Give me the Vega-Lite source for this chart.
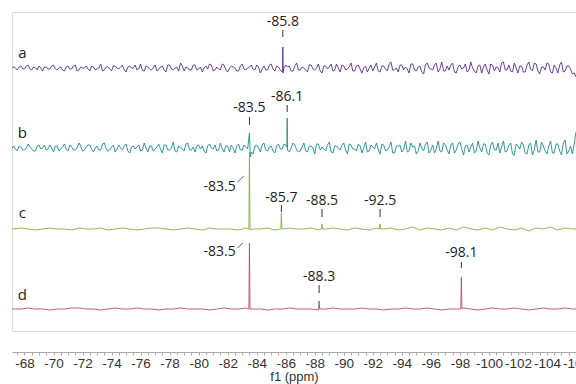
{
"$schema":"https://vega.github.io/schema/vega-lite/v6.json",
"width":564,"height":319,
"autosize":{"type":"none"},
"padding":{"left":12,"top":12,"right":0,"bottom":53},
"background":"white",
"config":{"view":{"stroke":"#dcdcdc","strokeWidth":1}},
"datasets":{
"a":[{"x":-67.14,"v":263},
{"x":-67.25,"v":264},{"x":-67.5,"v":261},{"x":-67.75,"v":265},{"x":-68,"v":262},{"x":-68.25,"v":266},{"x":-68.5,"v":261},{"x":-68.75,"v":263},{"x":-69,"v":265},{"x":-69.25,"v":260},{"x":-69.5,"v":264},
{"x":-69.75,"v":262},{"x":-70,"v":266},{"x":-70.25,"v":261},{"x":-70.5,"v":264},{"x":-70.75,"v":260},{"x":-71,"v":265},{"x":-71.25,"v":262},{"x":-71.5,"v":266},{"x":-71.75,"v":261},{"x":-72,"v":263},
{"x":-72.25,"v":265},{"x":-72.5,"v":260},{"x":-72.75,"v":264},{"x":-73,"v":262},{"x":-73.25,"v":267},{"x":-73.5,"v":261},{"x":-73.75,"v":264},{"x":-74,"v":260},{"x":-74.25,"v":265},{"x":-74.5,"v":262},
{"x":-74.75,"v":266},{"x":-75,"v":259},{"x":-75.25,"v":265},{"x":-75.5,"v":263},{"x":-75.75,"v":261},{"x":-76,"v":267},{"x":-76.25,"v":260},{"x":-76.5,"v":264},{"x":-76.75,"v":261},{"x":-77,"v":266},
{"x":-77.25,"v":262},{"x":-77.5,"v":265},{"x":-77.75,"v":259},{"x":-78,"v":266},{"x":-78.25,"v":261},{"x":-78.5,"v":264},{"x":-78.75,"v":268},{"x":-79,"v":260},{"x":-79.25,"v":263},{"x":-79.5,"v":261},
{"x":-79.75,"v":266},{"x":-80,"v":262},{"x":-80.25,"v":259},{"x":-80.5,"v":265},{"x":-80.75,"v":267},{"x":-81,"v":260},{"x":-81.25,"v":264},{"x":-81.5,"v":261},{"x":-81.75,"v":266},{"x":-82,"v":259},
{"x":-82.25,"v":265},{"x":-82.5,"v":263},{"x":-82.75,"v":260},{"x":-83,"v":267},{"x":-83.25,"v":261},{"x":-83.5,"v":264},{"x":-83.75,"v":262},{"x":-84,"v":266},{"x":-84.25,"v":258},{"x":-84.5,"v":265},
{"x":-84.75,"v":261},{"x":-85,"v":267},{"x":-85.25,"v":260},{"x":-85.5,"v":264},{"x":-85.75,"v":259},{"x":-85.79,"v":262},{"x":-85.8,"v":284},{"x":-85.82,"v":258},{"x":-86,"v":266},{"x":-86.25,"v":265},{"x":-86.5,"v":260},{"x":-86.75,"v":268},{"x":-87,"v":261},
{"x":-87.25,"v":263},{"x":-87.5,"v":259},{"x":-87.75,"v":266},{"x":-88,"v":261},{"x":-88.25,"v":267},{"x":-88.5,"v":258},{"x":-88.75,"v":265},{"x":-89,"v":264},{"x":-89.25,"v":260},{"x":-89.5,"v":267},
{"x":-89.75,"v":259},{"x":-90,"v":265},{"x":-90.25,"v":262},{"x":-90.5,"v":268},{"x":-90.75,"v":260},{"x":-91,"v":266},{"x":-91.25,"v":258},{"x":-91.5,"v":265},{"x":-91.75,"v":263},{"x":-92,"v":260},
{"x":-92.25,"v":268},{"x":-92.5,"v":259},{"x":-92.75,"v":265},{"x":-93,"v":260},{"x":-93.25,"v":269},{"x":-93.5,"v":261},{"x":-93.75,"v":259},{"x":-94,"v":266},{"x":-94.25,"v":264},{"x":-94.5,"v":258},
{"x":-94.75,"v":267},{"x":-95,"v":260},{"x":-95.25,"v":265},{"x":-95.5,"v":257},{"x":-95.75,"v":268},{"x":-96,"v":262},{"x":-96.25,"v":266},{"x":-96.5,"v":259},{"x":-96.75,"v":269},{"x":-97,"v":260},
{"x":-97.25,"v":261},{"x":-97.5,"v":268},{"x":-97.75,"v":258},{"x":-98,"v":266},{"x":-98.25,"v":263},{"x":-98.5,"v":259},{"x":-98.75,"v":269},{"x":-99,"v":260},{"x":-99.25,"v":265},{"x":-99.5,"v":258},
{"x":-99.75,"v":267},{"x":-100,"v":257},{"x":-100.25,"v":266},{"x":-100.5,"v":264},{"x":-100.75,"v":259},{"x":-101,"v":269},{"x":-101.25,"v":261},{"x":-101.5,"v":260},{"x":-101.75,"v":268},{"x":-102,"v":258},
{"x":-102.25,"v":265},{"x":-102.5,"v":259},{"x":-102.75,"v":269},{"x":-103,"v":260},{"x":-103.25,"v":267},{"x":-103.5,"v":257},{"x":-103.75,"v":264},{"x":-104,"v":268},{"x":-104.25,"v":259},{"x":-104.5,"v":266},
{"x":-104.75,"v":258},{"x":-105,"v":269},{"x":-105.25,"v":260},{"x":-105.5,"v":265},{"x":-105.75,"v":257},{"x":-106,"v":254},
{"x":-67.375,"v":263},{"x":-67.625,"v":264},{"x":-67.875,"v":262},{"x":-68.125,"v":265},{"x":-68.375,"v":262},{"x":-68.625,"v":264},{"x":-68.875,"v":261},{"x":-69.125,"v":263},{"x":-69.375,"v":264},{"x":-69.625,"v":262},
{"x":-69.875,"v":265},{"x":-70.125,"v":262},{"x":-70.375,"v":263},{"x":-70.625,"v":261},{"x":-70.875,"v":264},{"x":-71.125,"v":262},{"x":-71.375,"v":265},{"x":-71.625,"v":260},{"x":-71.875,"v":264},{"x":-72.125,"v":263},
{"x":-72.375,"v":262},{"x":-72.625,"v":265},{"x":-72.875,"v":261},{"x":-73.125,"v":263},{"x":-73.375,"v":260},{"x":-73.625,"v":264},{"x":-73.875,"v":262},{"x":-74.125,"v":265},{"x":-74.375,"v":263},{"x":-74.625,"v":264},
{"x":-74.875,"v":261},{"x":-75.125,"v":264},{"x":-75.375,"v":263},{"x":-75.625,"v":266},{"x":-75.875,"v":262},{"x":-76.125,"v":261},{"x":-76.375,"v":265},{"x":-76.625,"v":262},{"x":-76.875,"v":263},{"x":-77.125,"v":260},
{"x":-77.375,"v":264},{"x":-77.625,"v":261},{"x":-77.875,"v":266},{"x":-78.125,"v":262},{"x":-78.375,"v":263},{"x":-78.625,"v":260},{"x":-78.875,"v":265},{"x":-79.125,"v":264},{"x":-79.375,"v":261},{"x":-79.625,"v":266},
{"x":-79.875,"v":261},{"x":-80.125,"v":264},{"x":-80.375,"v":263},{"x":-80.625,"v":262},{"x":-80.875,"v":266},{"x":-81.125,"v":261},{"x":-81.375,"v":262},{"x":-81.625,"v":267},{"x":-81.875,"v":261},{"x":-82.125,"v":263},
{"x":-82.375,"v":264},{"x":-82.625,"v":260},{"x":-82.875,"v":265},{"x":-83.125,"v":262},{"x":-83.375,"v":263},{"x":-83.625,"v":266},{"x":-83.875,"v":261},{"x":-84.125,"v":264},{"x":-84.375,"v":262},{"x":-84.625,"v":261},
{"x":-84.875,"v":266},{"x":-85.125,"v":262},{"x":-85.375,"v":265},{"x":-85.625,"v":261},{"x":-85.875,"v":263},{"x":-86.125,"v":264},{"x":-86.375,"v":260},{"x":-86.625,"v":265},{"x":-86.875,"v":261},{"x":-87.125,"v":264},
{"x":-87.375,"v":261},{"x":-87.625,"v":266},{"x":-87.875,"v":262},{"x":-88.125,"v":263},{"x":-88.375,"v":260},{"x":-88.625,"v":265},{"x":-88.875,"v":262},{"x":-89.125,"v":267},{"x":-89.375,"v":261},{"x":-89.625,"v":263},
{"x":-89.875,"v":266},{"x":-90.125,"v":261},{"x":-90.375,"v":264},{"x":-90.625,"v":260},{"x":-90.875,"v":265},{"x":-91.125,"v":262},{"x":-91.375,"v":263},{"x":-91.625,"v":259},{"x":-91.875,"v":266},{"x":-92.125,"v":264},
{"x":-92.375,"v":260},{"x":-92.625,"v":265},{"x":-92.875,"v":262},{"x":-93.125,"v":267},{"x":-93.375,"v":261},{"x":-93.625,"v":263},{"x":-93.875,"v":266},{"x":-94.125,"v":261},{"x":-94.375,"v":262},{"x":-94.625,"v":267},
{"x":-94.875,"v":261},{"x":-95.125,"v":264},{"x":-95.375,"v":259},{"x":-95.625,"v":266},{"x":-95.875,"v":263},{"x":-96.125,"v":261},{"x":-96.375,"v":268},{"x":-96.625,"v":262},{"x":-96.875,"v":260},{"x":-97.125,"v":265},
{"x":-97.375,"v":266},{"x":-97.625,"v":259},{"x":-97.875,"v":264},{"x":-98.125,"v":262},{"x":-98.375,"v":267},{"x":-98.625,"v":261},{"x":-98.875,"v":263},{"x":-99.125,"v":258},{"x":-99.375,"v":266},{"x":-99.625,"v":264},
{"x":-99.875,"v":261},{"x":-100.125,"v":267},{"x":-100.375,"v":260},{"x":-100.625,"v":263},{"x":-100.875,"v":268},{"x":-101.125,"v":261},{"x":-101.375,"v":266},{"x":-101.625,"v":259},{"x":-101.875,"v":263},{"x":-102.125,"v":265},
{"x":-102.375,"v":259},{"x":-102.625,"v":266},{"x":-102.875,"v":262},{"x":-103.125,"v":268},{"x":-103.375,"v":260},{"x":-103.625,"v":264},{"x":-103.875,"v":261},{"x":-104.125,"v":267},{"x":-104.375,"v":258},{"x":-104.625,"v":263},
{"x":-104.875,"v":266},{"x":-105.125,"v":259},{"x":-105.375,"v":265},{"x":-105.625,"v":262},{"x":-105.875,"v":258}],
"b":[{"x":-67.14,"v":183},
{"x":-67.25,"v":185},{"x":-67.5,"v":180},{"x":-67.75,"v":184},{"x":-68,"v":181},{"x":-68.25,"v":187},{"x":-68.5,"v":182},{"x":-68.75,"v":180},{"x":-69,"v":186},{"x":-69.25,"v":183},{"x":-69.5,"v":181},
{"x":-69.75,"v":186},{"x":-70,"v":179},{"x":-70.25,"v":185},{"x":-70.5,"v":182},{"x":-70.75,"v":187},{"x":-71,"v":180},{"x":-71.25,"v":184},{"x":-71.5,"v":181},{"x":-71.75,"v":188},{"x":-72,"v":180},
{"x":-72.25,"v":184},{"x":-72.5,"v":186},{"x":-72.75,"v":179},{"x":-73,"v":185},{"x":-73.25,"v":181},{"x":-73.5,"v":188},{"x":-73.75,"v":180},{"x":-74,"v":184},{"x":-74.25,"v":179},{"x":-74.5,"v":186},
{"x":-74.75,"v":181},{"x":-75,"v":187},{"x":-75.25,"v":178},{"x":-75.5,"v":185},{"x":-75.75,"v":184},{"x":-76,"v":180},{"x":-76.25,"v":188},{"x":-76.5,"v":179},{"x":-76.75,"v":185},{"x":-77,"v":182},
{"x":-77.25,"v":187},{"x":-77.5,"v":178},{"x":-77.75,"v":186},{"x":-78,"v":181},{"x":-78.25,"v":189},{"x":-78.5,"v":179},{"x":-78.75,"v":184},{"x":-79,"v":180},{"x":-79.25,"v":188},{"x":-79.5,"v":181},
{"x":-79.75,"v":179},{"x":-80,"v":186},{"x":-80.25,"v":185},{"x":-80.5,"v":178},{"x":-80.75,"v":187},{"x":-81,"v":182},{"x":-81.25,"v":180},{"x":-81.5,"v":188},{"x":-81.75,"v":179},{"x":-82,"v":185},
{"x":-82.25,"v":186},{"x":-82.5,"v":178},{"x":-82.75,"v":187},{"x":-83,"v":181},{"x":-83.25,"v":184},{"x":-83.5,"v":198},{"x":-83.56,"v":174},{"x":-83.75,"v":177},{"x":-84,"v":186},{"x":-84.25,"v":179},{"x":-84.5,"v":188},
{"x":-84.75,"v":180},{"x":-85,"v":185},{"x":-85.25,"v":178},{"x":-85.5,"v":187},{"x":-85.75,"v":182},{"x":-86,"v":186},{"x":-86.08,"v":184},{"x":-86.1,"v":213},{"x":-86.12,"v":181},{"x":-86.25,"v":179},{"x":-86.5,"v":188},{"x":-86.75,"v":181},{"x":-87,"v":180},
{"x":-87.25,"v":188},{"x":-87.5,"v":179},{"x":-87.75,"v":185},{"x":-88,"v":177},{"x":-88.25,"v":187},{"x":-88.5,"v":184},{"x":-88.75,"v":180},{"x":-89,"v":189},{"x":-89.25,"v":178},{"x":-89.5,"v":185},
{"x":-89.75,"v":181},{"x":-90,"v":188},{"x":-90.25,"v":177},{"x":-90.5,"v":186},{"x":-90.75,"v":182},{"x":-91,"v":187},{"x":-91.25,"v":178},{"x":-91.5,"v":189},{"x":-91.75,"v":180},{"x":-92,"v":184},
{"x":-92.25,"v":188},{"x":-92.5,"v":177},{"x":-92.75,"v":186},{"x":-93,"v":181},{"x":-93.25,"v":189},{"x":-93.5,"v":178},{"x":-93.75,"v":185},{"x":-94,"v":179},{"x":-94.25,"v":190},{"x":-94.5,"v":180},
{"x":-94.75,"v":184},{"x":-95,"v":177},{"x":-95.25,"v":188},{"x":-95.5,"v":180},{"x":-95.75,"v":189},{"x":-96,"v":181},{"x":-96.25,"v":178},{"x":-96.5,"v":190},{"x":-96.75,"v":179},{"x":-97,"v":186},
{"x":-97.25,"v":177},{"x":-97.5,"v":188},{"x":-97.75,"v":181},{"x":-98,"v":189},{"x":-98.25,"v":176},{"x":-98.5,"v":186},{"x":-98.75,"v":184},{"x":-99,"v":178},{"x":-99.25,"v":190},{"x":-99.5,"v":179},
{"x":-99.75,"v":187},{"x":-100,"v":176},{"x":-100.25,"v":189},{"x":-100.5,"v":181},{"x":-100.75,"v":178},{"x":-101,"v":190},{"x":-101.25,"v":180},{"x":-101.5,"v":188},{"x":-101.75,"v":176},{"x":-102,"v":185},
{"x":-102.25,"v":189},{"x":-102.5,"v":178},{"x":-102.75,"v":186},{"x":-103,"v":176},{"x":-103.25,"v":191},{"x":-103.5,"v":179},{"x":-103.75,"v":185},{"x":-104,"v":177},{"x":-104.25,"v":190},{"x":-104.5,"v":178},
{"x":-104.75,"v":187},{"x":-105,"v":176},{"x":-105.25,"v":191},{"x":-105.5,"v":180},{"x":-105.75,"v":177},{"x":-106,"v":199},
{"x":-67.375,"v":182},{"x":-67.625,"v":185},{"x":-67.875,"v":181},{"x":-68.125,"v":183},{"x":-68.375,"v":184},{"x":-68.625,"v":180},{"x":-68.875,"v":185},{"x":-69.125,"v":182},{"x":-69.375,"v":186},{"x":-69.625,"v":182},
{"x":-69.875,"v":183},{"x":-70.125,"v":185},{"x":-70.375,"v":180},{"x":-70.625,"v":184},{"x":-70.875,"v":182},{"x":-71.125,"v":186},{"x":-71.375,"v":181},{"x":-71.625,"v":183},{"x":-71.875,"v":185},{"x":-72.125,"v":181},
{"x":-72.375,"v":186},{"x":-72.625,"v":182},{"x":-72.875,"v":183},{"x":-73.125,"v":181},{"x":-73.375,"v":187},{"x":-73.625,"v":182},{"x":-73.875,"v":181},{"x":-74.125,"v":186},{"x":-74.375,"v":182},{"x":-74.625,"v":183},
{"x":-74.875,"v":185},{"x":-75.125,"v":180},{"x":-75.375,"v":184},{"x":-75.625,"v":182},{"x":-75.875,"v":186},{"x":-76.125,"v":181},{"x":-76.375,"v":183},{"x":-76.625,"v":185},{"x":-76.875,"v":180},{"x":-77.125,"v":184},
{"x":-77.375,"v":182},{"x":-77.625,"v":186},{"x":-77.875,"v":181},{"x":-78.125,"v":183},{"x":-78.375,"v":180},{"x":-78.625,"v":185},{"x":-78.875,"v":182},{"x":-79.125,"v":187},{"x":-79.375,"v":181},{"x":-79.625,"v":184},
{"x":-79.875,"v":185},{"x":-80.125,"v":182},{"x":-80.375,"v":180},{"x":-80.625,"v":185},{"x":-80.875,"v":183},{"x":-81.125,"v":186},{"x":-81.375,"v":181},{"x":-81.625,"v":182},{"x":-81.875,"v":185},{"x":-82.125,"v":179},
{"x":-82.375,"v":183},{"x":-82.625,"v":185},{"x":-82.875,"v":181},{"x":-83.125,"v":186},{"x":-83.375,"v":182},{"x":-83.625,"v":179},{"x":-83.875,"v":185},{"x":-84.125,"v":183},{"x":-84.375,"v":186},{"x":-84.625,"v":181},
{"x":-84.875,"v":184},{"x":-85.125,"v":180},{"x":-85.375,"v":185},{"x":-85.625,"v":182},{"x":-85.875,"v":187},{"x":-86.125,"v":181},{"x":-86.375,"v":183},{"x":-86.625,"v":186},{"x":-86.875,"v":179},{"x":-87.125,"v":184},
{"x":-87.375,"v":180},{"x":-87.625,"v":185},{"x":-87.875,"v":183},{"x":-88.125,"v":187},{"x":-88.375,"v":181},{"x":-88.625,"v":182},{"x":-88.875,"v":186},{"x":-89.125,"v":179},{"x":-89.375,"v":185},{"x":-89.625,"v":183},
{"x":-89.875,"v":186},{"x":-90.125,"v":181},{"x":-90.375,"v":187},{"x":-90.625,"v":182},{"x":-90.875,"v":180},{"x":-91.125,"v":185},{"x":-91.375,"v":183},{"x":-91.625,"v":179},{"x":-91.875,"v":186},{"x":-92.125,"v":182},
{"x":-92.375,"v":181},{"x":-92.625,"v":187},{"x":-92.875,"v":180},{"x":-93.125,"v":184},{"x":-93.375,"v":178},{"x":-93.625,"v":185},{"x":-93.875,"v":186},{"x":-94.125,"v":181},{"x":-94.375,"v":179},{"x":-94.625,"v":188},
{"x":-94.875,"v":185},{"x":-95.125,"v":180},{"x":-95.375,"v":183},{"x":-95.625,"v":187},{"x":-95.875,"v":178},{"x":-96.125,"v":186},{"x":-96.375,"v":182},{"x":-96.625,"v":180},{"x":-96.875,"v":188},{"x":-97.125,"v":181},
{"x":-97.375,"v":186},{"x":-97.625,"v":178},{"x":-97.875,"v":187},{"x":-98.125,"v":182},{"x":-98.375,"v":185},{"x":-98.625,"v":179},{"x":-98.875,"v":188},{"x":-99.125,"v":180},{"x":-99.375,"v":183},{"x":-99.625,"v":187},
{"x":-99.875,"v":178},{"x":-100.125,"v":186},{"x":-100.375,"v":181},{"x":-100.625,"v":188},{"x":-100.875,"v":184},{"x":-101.125,"v":179},{"x":-101.375,"v":186},{"x":-101.625,"v":177},{"x":-101.875,"v":187},{"x":-102.125,"v":182},
{"x":-102.375,"v":186},{"x":-102.625,"v":177},{"x":-102.875,"v":188},{"x":-103.125,"v":181},{"x":-103.375,"v":179},{"x":-103.625,"v":189},{"x":-103.875,"v":180},{"x":-104.125,"v":185},{"x":-104.375,"v":178},{"x":-104.625,"v":187},
{"x":-104.875,"v":180},{"x":-105.125,"v":188},{"x":-105.375,"v":177},{"x":-105.625,"v":185},{"x":-105.875,"v":187}],
"c":[{"x":-67.14,"v":102},
{"x":-67.25,"v":102},{"x":-67.75,"v":103},{"x":-68.25,"v":102},{"x":-68.75,"v":101},{"x":-69.25,"v":102},{"x":-69.75,"v":103},{"x":-70.25,"v":102},{"x":-70.75,"v":102},{"x":-71.25,"v":101},{"x":-71.75,"v":103},
{"x":-72.25,"v":102},{"x":-72.75,"v":102},{"x":-73.25,"v":103},{"x":-73.75,"v":101},{"x":-74.25,"v":102},{"x":-74.75,"v":103},{"x":-75.25,"v":102},{"x":-75.75,"v":101},{"x":-76.25,"v":102},{"x":-76.75,"v":103},
{"x":-77.25,"v":103},{"x":-77.75,"v":102},{"x":-78.25,"v":101},{"x":-78.75,"v":102},{"x":-79.25,"v":103},{"x":-79.75,"v":102},{"x":-80.25,"v":101},{"x":-80.75,"v":103},{"x":-81.25,"v":102},{"x":-81.75,"v":102},
{"x":-82.25,"v":102},{"x":-82.75,"v":101},{"x":-83.25,"v":103},{"x":-83.46,"v":102},{"x":-83.5,"v":179},{"x":-83.54,"v":101},{"x":-83.75,"v":102},{"x":-84.25,"v":102},{"x":-84.75,"v":103},{"x":-85.25,"v":101},{"x":-85.66,"v":102},{"x":-85.7,"v":118},{"x":-85.74,"v":102},{"x":-85.75,"v":102},{"x":-86.25,"v":103},{"x":-86.75,"v":102},
{"x":-87.25,"v":102},{"x":-87.75,"v":103},{"x":-88.25,"v":101},{"x":-88.46,"v":102},{"x":-88.5,"v":107},{"x":-88.54,"v":102},{"x":-88.75,"v":102},{"x":-89.25,"v":103},{"x":-89.75,"v":102},{"x":-90.25,"v":101},{"x":-90.75,"v":103},{"x":-91.25,"v":102},{"x":-91.75,"v":101},
{"x":-92.25,"v":103},{"x":-92.46,"v":102},{"x":-92.5,"v":107},{"x":-92.54,"v":102},{"x":-92.75,"v":102},{"x":-93.25,"v":103},{"x":-93.75,"v":101},{"x":-94.25,"v":102},{"x":-94.75,"v":104},{"x":-95.25,"v":101},{"x":-95.75,"v":103},{"x":-96.25,"v":102},{"x":-96.75,"v":101},
{"x":-97.25,"v":103},{"x":-97.75,"v":101},{"x":-98.25,"v":104},{"x":-98.75,"v":102},{"x":-99.25,"v":101},{"x":-99.75,"v":103},{"x":-100.25,"v":101},{"x":-100.75,"v":104},{"x":-101.25,"v":102},{"x":-101.75,"v":101},
{"x":-102.25,"v":103},{"x":-102.75,"v":100},{"x":-103.25,"v":103},{"x":-103.75,"v":102},{"x":-104.25,"v":104},{"x":-104.75,"v":101},{"x":-105.25,"v":103},{"x":-105.75,"v":102},{"x":-106,"v":102}],
"d":[{"x":-67.14,"v":22},
{"x":-67.25,"v":22},{"x":-67.75,"v":22},{"x":-68.25,"v":23},{"x":-68.75,"v":22},{"x":-69.25,"v":22},{"x":-69.75,"v":21},{"x":-70.25,"v":22},{"x":-70.75,"v":22},{"x":-71.25,"v":23},{"x":-71.75,"v":23},
{"x":-72.25,"v":22},{"x":-72.75,"v":22},{"x":-73.25,"v":21},{"x":-73.75,"v":22},{"x":-74.25,"v":23},{"x":-74.75,"v":22},{"x":-75.25,"v":22},{"x":-75.75,"v":23},{"x":-76.25,"v":22},{"x":-76.75,"v":22},
{"x":-77.25,"v":21},{"x":-77.75,"v":22},{"x":-78.25,"v":22},{"x":-78.75,"v":23},{"x":-79.25,"v":22},{"x":-79.75,"v":22},{"x":-80.25,"v":22},{"x":-80.75,"v":21},{"x":-81.25,"v":22},{"x":-81.75,"v":23},
{"x":-82.25,"v":22},{"x":-82.75,"v":22},{"x":-83.25,"v":23},{"x":-83.46,"v":22},{"x":-83.5,"v":88},{"x":-83.54,"v":22},{"x":-83.75,"v":22},{"x":-84.25,"v":22},{"x":-84.75,"v":21},{"x":-85.25,"v":22},{"x":-85.75,"v":22},{"x":-86.25,"v":23},{"x":-86.75,"v":22},
{"x":-87.25,"v":22},{"x":-87.75,"v":22},{"x":-88.25,"v":21},{"x":-88.26,"v":22},{"x":-88.3,"v":30},{"x":-88.34,"v":22},{"x":-88.75,"v":22},{"x":-89.25,"v":23},{"x":-89.75,"v":22},{"x":-90.25,"v":22},{"x":-90.75,"v":22},{"x":-91.25,"v":23},{"x":-91.75,"v":22},
{"x":-92.25,"v":22},{"x":-92.75,"v":21},{"x":-93.25,"v":22},{"x":-93.75,"v":22},{"x":-94.25,"v":23},{"x":-94.75,"v":22},{"x":-95.25,"v":22},{"x":-95.75,"v":23},{"x":-96.25,"v":22},{"x":-96.75,"v":21},
{"x":-97.25,"v":22},{"x":-97.75,"v":22},{"x":-98.06,"v":22},{"x":-98.1,"v":54},{"x":-98.14,"v":22},{"x":-98.25,"v":23},{"x":-98.75,"v":22},{"x":-99.25,"v":21},{"x":-99.75,"v":22},{"x":-100.25,"v":23},{"x":-100.75,"v":22},{"x":-101.25,"v":22},{"x":-101.75,"v":23},
{"x":-102.25,"v":22},{"x":-102.75,"v":21},{"x":-103.25,"v":22},{"x":-103.75,"v":23},{"x":-104.25,"v":22},{"x":-104.75,"v":22},{"x":-105.25,"v":23},{"x":-105.75,"v":22},{"x":-106,"v":22}],
"tk":[{"x":-85.8,"v":294,"v2":301},{"x":-83.5,"v":206,"v2":214},{"x":-86.1,"v":219,"v2":226},{"x":-85.7,"v":119,"v2":126},{"x":-88.5,"v":114,"v2":122},{"x":-92.5,"v":114,"v2":122},{"x":-88.3,"v":38,"v2":46},{"x":-98.1,"v":63,"v2":69}],
"sl":[{"x":-82.69,"x2":-83.1,"v":149,"v2":155},{"x":-82.69,"x2":-83.03,"v":83,"v2":88}],
"lb":[{"x":-85.8,"v":309,"s":"-85.8"},{"x":-83.5,"v":223,"s":"-83.5"},{"x":-86.1,"v":234,"s":"-86.1"},{"x":-81.45,"v":144,"s":"-83.5"},{"x":-85.7,"v":133,"s":"-85.7"},{"x":-88.5,"v":130,"s":"-88.5"},{"x":-92.5,"v":130,"s":"-92.5"},{"x":-81.45,"v":79,"s":"-83.5"},{"x":-88.3,"v":54,"s":"-88.3"},{"x":-98.1,"v":78,"s":"-98.1"}],
"lt":[{"x":-67.86,"v":278,"s":"a"},{"x":-67.86,"v":198,"s":"b"},{"x":-67.86,"v":118,"s":"c"},{"x":-67.86,"v":36,"s":"d"}]
},
"encoding":{
"x":{"field":"x","type":"quantitative","title":"f1 (ppm)",
"scale":{"domain":[-106,-67.14],"reverse":true,"nice":false,"zero":false},
"axis":{"offset":21,"values":[-67.5,-68,-68.5,-69,-69.5,-70,-70.5,-71,-71.5,-72,-72.5,-73,-73.5,-74,-74.5,-75,-75.5,-76,-76.5,-77,-77.5,-78,-78.5,-79,-79.5,-80,-80.5,-81,-81.5,-82,-82.5,-83,-83.5,-84,-84.5,-85,-85.5,-86,-86.5,-87,-87.5,-88,-88.5,-89,-89.5,-90,-90.5,-91,-91.5,-92,-92.5,-93,-93.5,-94,-94.5,-95,-95.5,-96,-96.5,-97,-97.5,-98,-98.5,-99,-99.5,-100,-100.5,-101,-101.5,-102,-102.5,-103,-103.5,-104,-104.5,-105,-105.5,-106],
"labelExpr":"datum.value % 2 == 0 ? '' + datum.value : ''",
"labelOverlap":false,"labelFlush":false,"labelBound":false,"grid":false,
"domainColor":"#aaaaaa","tickColor":"#aaaaaa","tickSize":3,
"labelFont":"Liberation Sans","labelFontSize":13.5,"labelColor":"#333333","labelPadding":1,
"titleFont":"Liberation Sans","titleFontSize":13,"titleFontWeight":"normal","titleColor":"#333333","titlePadding":1}}
},
"layer":[
{"data":{"name":"a"},"mark":{"type":"line","color":"#56308e","strokeWidth":0.9,"clip":true},
 "encoding":{"y":{"field":"v","type":"quantitative","scale":{"domain":[0,319],"nice":false,"zero":false},"axis":null}}},
{"data":{"name":"b"},"mark":{"type":"line","color":"#1f8c8a","strokeWidth":0.9,"clip":true},
 "encoding":{"y":{"field":"v","type":"quantitative"}}},
{"data":{"name":"c"},"mark":{"type":"line","color":"#86ad4c","strokeWidth":0.9,"clip":true},
 "encoding":{"y":{"field":"v","type":"quantitative"}}},
{"data":{"name":"d"},"mark":{"type":"line","color":"#b0506c","strokeWidth":0.9,"clip":true},
 "encoding":{"y":{"field":"v","type":"quantitative"}}},
{"data":{"name":"tk"},"mark":{"type":"rule","color":"#333333","strokeWidth":1},
 "encoding":{"y":{"field":"v","type":"quantitative"},"y2":{"field":"v2"}}},
{"data":{"name":"sl"},"mark":{"type":"rule","color":"#333333","strokeWidth":0.8},
 "encoding":{"x2":{"field":"x2"},"y":{"field":"v","type":"quantitative"},"y2":{"field":"v2"}}},
{"data":{"name":"lb"},"mark":{"type":"text","font":"Open Sans","fontSize":14,"color":"#222222","baseline":"middle","align":"center"},
 "encoding":{"y":{"field":"v","type":"quantitative"},"text":{"field":"s"}}},
{"data":{"name":"lt"},"mark":{"type":"text","font":"Open Sans","fontSize":15,"color":"#222222","baseline":"middle","align":"center"},
 "encoding":{"y":{"field":"v","type":"quantitative"},"text":{"field":"s"}}}
]
}
